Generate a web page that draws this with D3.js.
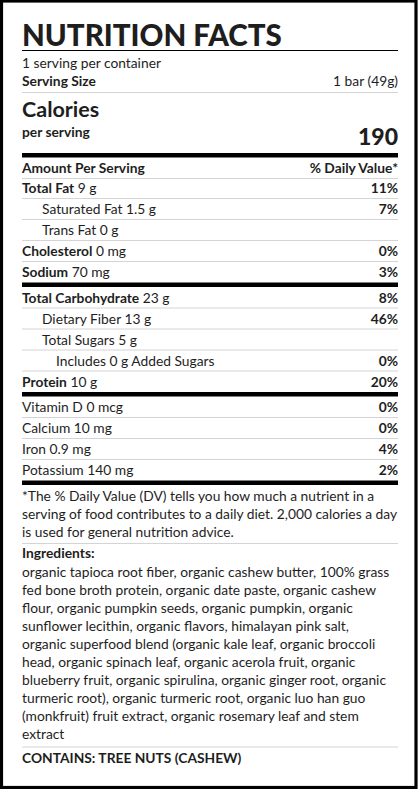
<!DOCTYPE html>
<html>
<head>
<meta charset="utf-8">
<script src="https://cdn.jsdelivr.net/npm/d3@7"></script>
<style>
  html, body { margin: 0; padding: 0; background: #fff; }
  svg { display: block; font-family: Lato, "Open Sans", sans-serif; }
</style>
</head>
<body>
<div id="label"></div>
<script>
// nutrient rows
const nutrients = ["Total Fat", "Saturated Fat", "Trans Fat", "Cholesterol", "Sodium",
  "Total Carbohydrate", "Dietary Fiber", "Total Sugars", "Includes 0 g Added Sugars", "Protein",
  "Vitamin D", "Calcium", "Iron", "Potassium"];
const amounts = ["9 g", "1.5 g", "0 g", "0 mg", "70 mg", "23 g", "13 g", "5 g", "", "10 g",
  "0 mcg", "10 mg", "0.9 mg", "140 mg"];
const dailyValues = [11, 7, null, 0, 3, 8, 46, null, 0, 20, 0, 0, 4, 2];
const indents = [0, 1, 1, 0, 0, 0, 1, 1, 2, 0, 0, 0, 0, 0];
const boldNames = [true, false, false, true, true, true, false, false, false, true, false, false, false, false];
const thickAfter = [4, 9, 13];

const servings = "1 serving per container";
const servingSize = "1 bar (49g)";
const calories = 190;

const footnote = [
  "*The % Daily Value (DV) tells you how much a nutrient in a",
  "serving of food contributes to a daily diet. 2,000 calories a day",
  "is used for general nutrition advice."
];
const ingredients = [
  "organic tapioca root fiber, organic cashew butter, 100% grass",
  "fed bone broth protein, organic date paste, organic cashew",
  "flour, organic pumpkin seeds, organic pumpkin, organic",
  "sunflower lecithin, organic flavors, himalayan pink salt,",
  "organic superfood blend (organic kale leaf, organic broccoli",
  "head, organic spinach leaf, organic acerola fruit, organic",
  "blueberry fruit, organic spirulina, organic ginger root, organic",
  "turmeric root), organic turmeric root, organic luo han guo",
  "(monkfruit) fruit extract, organic rosemary leaf and stem",
  "extract"
];
const allergens = "CONTAINS: TREE NUTS (CASHEW)";

const w = 420, h = 789;
const left = 22, right = 398;
const ink = "#1e1e1e";
const rule = "#d4d4d4";
const fs = 13.8;

const svg = d3.select("#label").append("svg")
  .attr("width", w).attr("height", h);

svg.append("rect")
  .attr("x", 1.5).attr("y", 1).attr("width", 414.5).attr("height", 786.5)
  .attr("fill", "#fff").attr("stroke", "#000").attr("stroke-width", 3.2);

function hline(y, width, color) {
  svg.append("line")
    .attr("x1", left).attr("x2", right)
    .attr("y1", y).attr("y2", y)
    .attr("stroke", color).attr("stroke-width", width);
}

function text(x, y, str, opts) {
  opts = opts || {};
  return svg.append("text")
    .attr("x", x).attr("y", y)
    .attr("fill", ink)
    .attr("font-size", opts.size || fs)
    .attr("font-weight", opts.weight || 400)
    .attr("text-anchor", opts.anchor || "start")
    .text(str);
}

// header
text(left, 46, "NUTRITION FACTS", { size: 29.5, weight: 900 });
hline(50.5, 1.2, "#000");
text(left, 68, servings);
text(left, 86, "Serving Size", { weight: 700 });
text(right, 86, servingSize, { anchor: "end" });
hline(92.5, 1, rule);
text(left, 117, "Calories", { size: 21.5, weight: 700 });
text(left, 137, "per serving", { weight: 700 });
text(right, 145, calories, { size: 23, weight: 900, anchor: "end" });
hline(155.2, 4.5, "#000");
text(left, 173, "Amount Per Serving", { weight: 700 });
text(right, 173, "% Daily Value*", { weight: 700, anchor: "end" });
hline(178.5, 1, rule);

// rows: tops stacked from the header rule, thick bars add a gap
const rowH = 21, thickGap = 4.5;
const tops = [];
let t = 178;
nutrients.forEach((d, i) => {
  tops.push(t);
  t += rowH + (thickAfter.includes(i) ? thickGap : 0);
});
const rowScale = d3.scaleOrdinal().domain(nutrients).range(tops);
const indentScale = d3.scaleOrdinal().domain([0, 1, 2]).range([left, left + 20, left + 34]);

const rows = svg.append("g").selectAll("g")
  .data(nutrients)
  .join("g")
  .attr("transform", d => `translate(0,${rowScale(d)})`);

const label = rows.append("text")
  .attr("x", (d, i) => indentScale(indents[i]))
  .attr("y", 15)
  .attr("fill", ink)
  .attr("font-size", fs);
label.append("tspan")
  .attr("font-weight", (d, i) => boldNames[i] ? 700 : 400)
  .text(d => d);
label.append("tspan")
  .text((d, i) => amounts[i] ? " " + amounts[i] : "");

rows.append("text")
  .attr("x", right).attr("y", 15)
  .attr("text-anchor", "end")
  .attr("fill", ink)
  .attr("font-size", fs)
  .attr("font-weight", 700)
  .text((d, i) => dailyValues[i] === null ? "" : dailyValues[i] + "%");

const sepY = (d, i) => thickAfter.includes(i) ? rowH + thickGap / 2 - 0.5 : rowH - 0.5;
rows.append("line")
  .attr("x1", left).attr("x2", right)
  .attr("y1", sepY)
  .attr("y2", sepY)
  .attr("stroke", (d, i) => thickAfter.includes(i) ? "#000" : rule)
  .attr("stroke-width", (d, i) => thickAfter.includes(i) ? thickGap : 1);

// footnote
footnote.forEach((s, i) => text(left, 501 + i * 18, s));
hline(543.5, 1, rule);

// ingredients
text(left, 558, "Ingredients:", { weight: 700 });
ingredients.forEach((s, i) => text(left, 576.8 + i * 18.03, s));
hline(747, 1, rule);
text(left, 763, allergens, { weight: 700 });
</script>
</body>
</html>
